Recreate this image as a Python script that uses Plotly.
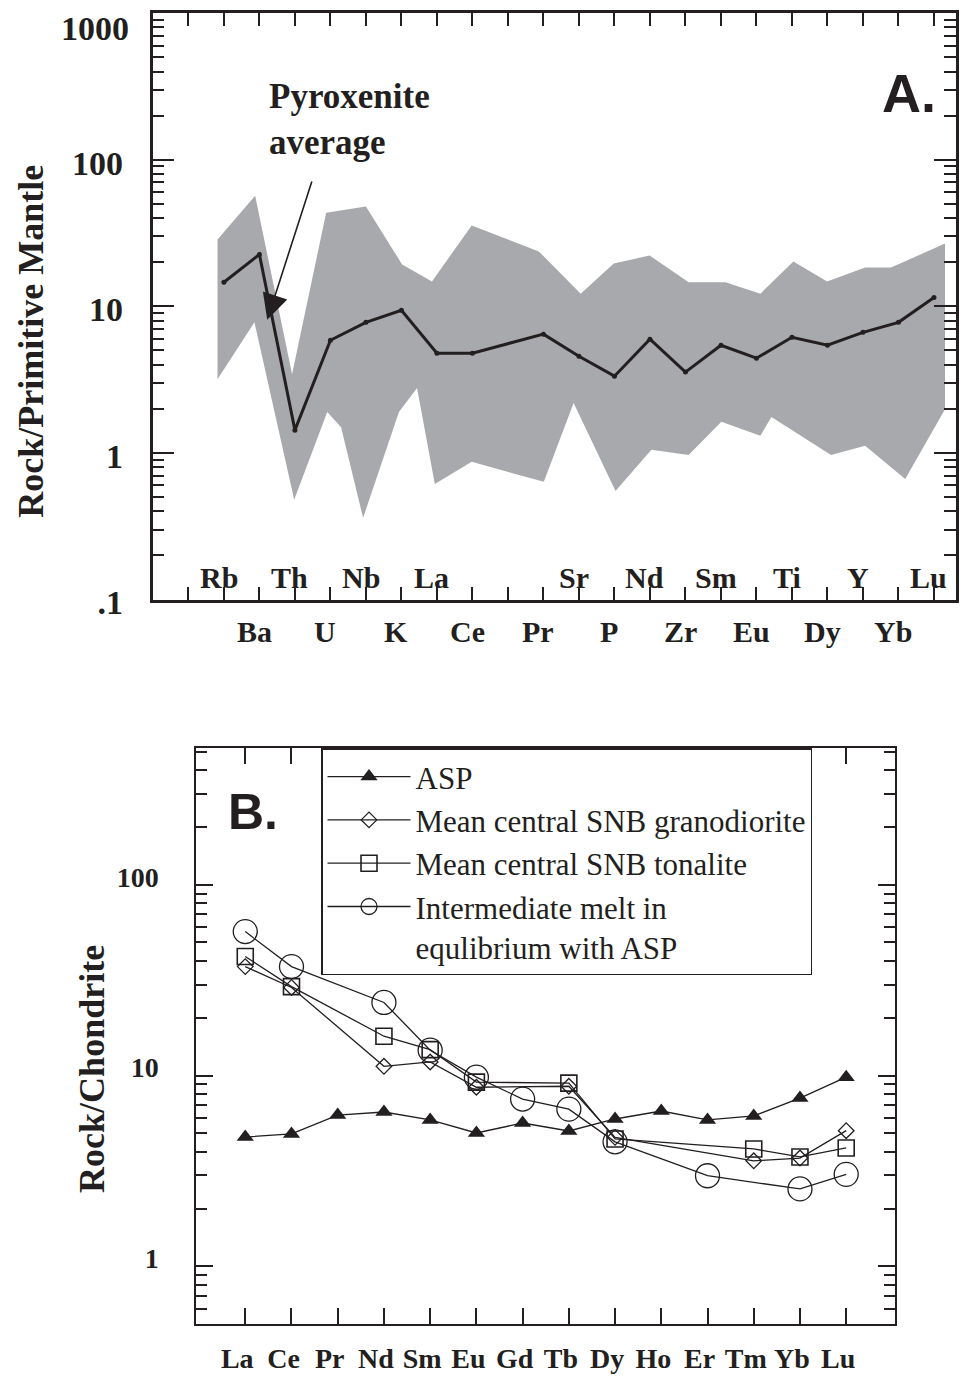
import plotly.graph_objects as go

# ---------------- Panel A data ----------------
pm_elements = ["Rb", "Ba", "Th", "U", "Nb", "K", "La", "Ce", "Pr", "Sr", "P",
               "Nd", "Zr", "Sm", "Eu", "Ti", "Dy", "Y", "Yb", "Lu"]
pm_positions = [1, 2, 3, 4, 5, 6, 7, 8, 10, 11, 12, 13, 14, 15, 16, 17, 18, 19, 20, 21]
pyroxenite_avg = [14.6, 22.6, 1.43, 5.87, 7.78, 9.4, 4.79, 4.79, 6.46, 4.57, 3.34,
                  5.97, 3.56, 5.43, 4.43, 6.15, 5.43, 6.65, 7.78, 11.5]

band_upper_pos = [0.82, 1.88, 2.92, 3.88, 5.0, 6.02, 6.86, 7.98, 9.87, 11.05, 11.98,
                  12.99, 14.09, 15.13, 16.11, 17.04, 17.99, 19.06, 19.79, 21.31]
band_upper = [28.6, 56.9, 3.44, 43.5, 47.9, 19.3, 14.8, 35.6, 23.7, 12.2, 19.6,
              22.2, 14.6, 14.6, 12.2, 20.2, 14.8, 18.4, 18.4, 26.8]
band_lower_pos = [0.82, 1.86, 2.98, 3.91, 4.30, 4.92, 5.93, 6.44, 6.94, 7.98, 10.01,
                  10.85, 12.03, 13.04, 14.09, 15.01, 16.11, 16.42, 18.10, 19.06, 20.19, 21.31]
band_lower = [3.18, 7.78, 0.479, 1.90, 1.50, 0.361, 1.90, 2.77, 0.615, 0.87, 0.635,
              2.19, 0.55, 1.05, 0.97, 1.63, 1.31, 1.76, 0.97, 1.12, 0.665, 1.99]

pm_tick_vals = [0.1, 1, 10, 100, 1000]
pm_tick_text = [".1", "1", "10", "100", ""]
pm_top_label = "1000"

# ---------------- Panel B data ----------------
ree = ["La", "Ce", "Pr", "Nd", "Sm", "Eu", "Gd", "Tb", "Dy", "Ho", "Er", "Tm", "Yb", "Lu"]
asp = [4.77, 4.95, 6.22, 6.45, 5.86, 5.01, 5.65, 5.13, 5.93, 6.53, 5.86, 6.15, 7.63, 9.82]
granodiorite = [37.3, 29.0, None, 11.2, 11.8, 8.7, None, 8.8, 4.75, None, None, 3.58, 3.7, 5.15]
tonalite = [42.1, 29.3, None, 16.1, 13.7, 9.25, None, 9.14, 4.66, None, None, 4.13, 3.75, 4.18]
melt = [56.9, 37.3, None, 24.2, 13.6, 9.82, 7.54, 6.68, 4.5, None, 2.99, None, 2.55, 3.04]

ch_tick_vals = [1, 10, 100]
ch_tick_text = ["1", "10", "100"]

INK = "#231f20"
SERIF = "Liberation Serif, Times New Roman, serif"
SANS = "Liberation Sans, Arial, sans-serif"

# page body keeps an 8px margin; the photographed page is slightly squeezed vertically
OFF = 8
VSCALE = 0.985
W, H = 967 - 2 * OFF, 1384


def px(x):
    return min(1.0, max(0.0, (x - OFF) / W))


def py(y):
    return min(1.0, max(0.0, 1 - (y / VSCALE - OFF) / H))


fig = go.Figure()

# band
fig.add_trace(go.Scatter(
    x=band_upper_pos + band_lower_pos[::-1],
    y=band_upper + band_lower[::-1],
    fill="toself", fillcolor="#a8a9ac", mode="lines", line=dict(width=0),
    showlegend=False, hoverinfo="skip", xaxis="x", yaxis="y"))
# average line
fig.add_trace(go.Scatter(
    x=pm_positions, y=pyroxenite_avg, mode="lines+markers",
    line=dict(color=INK, width=3), marker=dict(color=INK, size=5),
    showlegend=False, xaxis="x", yaxis="y"))

ree_x = list(range(len(ree)))
series = [
    ("ASP", asp, dict(symbol="triangle-up", size=15, color=INK)),
    ("Mean central SNB granodiorite", granodiorite,
     dict(symbol="diamond-open", size=12, color=INK, line=dict(width=1.3))),
    ("Mean central SNB tonalite", tonalite,
     dict(symbol="square-open", size=16, color=INK, line=dict(width=1.6))),
    ("Intermediate melt in<br>equlibrium with ASP", melt,
     dict(symbol="circle-open", size=24, color=INK, line=dict(width=1.3))),
]
for name, vals, mk in series:
    fig.add_trace(go.Scatter(
        x=ree_x, y=vals, name=name, mode="lines+markers", connectgaps=True,
        line=dict(color=INK, width=1.3), marker=mk, xaxis="x2", yaxis="y2"))

minor_ticks = [m * 10 ** e for e in range(-1, 3) for m in range(2, 10)]

fig.update_layout(
    width=W, height=H, margin=dict(l=0, r=0, t=0, b=0),
    paper_bgcolor="white", plot_bgcolor="white",
    font=dict(family=SERIF, color=INK),
    xaxis=dict(domain=[px(153), px(966)], range=[-1.01, 21.62],
               showgrid=False, zeroline=False, showline=True, linecolor=INK, linewidth=2.5,
               mirror="allticks", ticks="inside", ticklen=13, tickwidth=2, tickcolor=INK,
               tickmode="array", tickvals=list(range(0, 22)), showticklabels=False),
    yaxis=dict(domain=[py(600), py(13)], type="log", range=[-1.0004, 3.0004],
               showgrid=False, zeroline=False, showline=True, linecolor=INK, linewidth=2.5,
               mirror="allticks", ticks="inside", ticklen=22, tickwidth=2, tickcolor=INK,
               tickmode="array", tickvals=pm_tick_vals, ticktext=pm_tick_text,
               tickfont=dict(family=SERIF, size=34, weight="bold", color=INK),
               ticklabelstandoff=20, ticklabelshift=3,
               minor=dict(ticks="inside", ticklen=12, tickwidth=2, tickcolor=INK,
                          tickmode="array", tickvals=minor_ticks)),
    xaxis2=dict(domain=[px(197), px(898)], range=[-1.057, 14.06], anchor="y2",
                showgrid=False, zeroline=False, showline=True, linecolor=INK, linewidth=2,
                mirror="allticks", ticks="inside", ticklen=16, tickwidth=1.6, tickcolor=INK,
                tickmode="array", tickvals=ree_x, ticktext=ree,
                tickfont=dict(family=SERIF, size=28, weight="bold", color=INK),
                ticklabelstandoff=8, ticklabelshift=-8, ticklabeloverflow="allow"),
    yaxis2=dict(domain=[py(1325), py(749)], type="log", range=[-0.301, 2.715],
                anchor="x2", showgrid=False, zeroline=False, showline=True, linecolor=INK,
                linewidth=2, mirror="allticks", ticks="inside", ticklen=17, tickwidth=1.6,
                tickcolor=INK, tickmode="array", tickvals=ch_tick_vals, ticktext=ch_tick_text,
                tickfont=dict(family=SERIF, size=28, weight="bold", color=INK),
                ticklabelstandoff=30, ticklabelshift=-8,
                minor=dict(ticks="inside", ticklen=11, tickwidth=1.6, tickcolor=INK,
                           tickmode="array", tickvals=minor_ticks)),
    legend=dict(x=px(322), y=py(749), xanchor="left", yanchor="top",
                bgcolor="white", bordercolor=INK, borderwidth=1.5,
                font=dict(family=SERIF, size=31, color=INK),
                itemwidth=83, valign="top", tracegroupgap=0),
)

ann = []
# top tick label of panel A, kept inside the page
ann.append(dict(x=px(131), y=py(8), xref="paper", yref="paper", xanchor="right",
                yanchor="top", text=pm_top_label, showarrow=False,
                font=dict(family=SERIF, size=34, weight="bold", color=INK)))
# element labels panel A (alternating rows)
for name, pos in zip(pm_elements, pm_positions):
    top_row = pos % 2 == 1
    ann.append(dict(x=pos, y=0.0375 if top_row else -0.0545, xref="x", yref="y domain",
                    text=name, showarrow=False, xshift=-5, xanchor="center", yanchor="middle",
                    font=dict(family=SERIF, size=30, weight="bold", color=INK)))
# Pyroxenite average label + arrow
ann.append(dict(x=2.22, y=2.577, xref="x", yref="y", xanchor="left", yanchor="top",
                align="left", text="Pyroxenite<br>average", showarrow=False,
                font=dict(family=SERIF, size=35, weight="bold", color=INK)))
ann.append(dict(x=2.22, y=0.908, xref="x", yref="y", ax=3.49, ay=1.862,
                axref="x", ayref="y", text="", showarrow=True, arrowhead=2,
                arrowsize=3.2, arrowwidth=1.6, arrowcolor=INK, standoff=0))
# panel letters
ann.append(dict(x=20.3, y=2.455, xref="x", yref="y", text="A.", showarrow=False,
                xanchor="center", yanchor="middle",
                font=dict(family=SANS, size=54, weight="bold", color=INK)))
ann.append(dict(x=0.17, y=2.38, xref="x2", yref="y2", text="B.", showarrow=False,
                xanchor="center", yanchor="middle",
                font=dict(family=SANS, size=50, weight="bold", color=INK)))
# axis titles
ann.append(dict(x=px(31), y=py(341), xref="paper", yref="paper", textangle=-90,
                xanchor="center", yanchor="middle",
                text="Rock/Primitive Mantle", showarrow=False,
                font=dict(family=SERIF, size=36, weight="bold", color=INK)))
ann.append(dict(x=px(92), y=py(1070), xref="paper", yref="paper", textangle=-90,
                xanchor="center", yanchor="middle",
                text="Rock/Chondrite", showarrow=False,
                font=dict(family=SERIF, size=36, weight="bold", color=INK)))
fig.update_layout(annotations=ann)

fig.write_html("out.html")
